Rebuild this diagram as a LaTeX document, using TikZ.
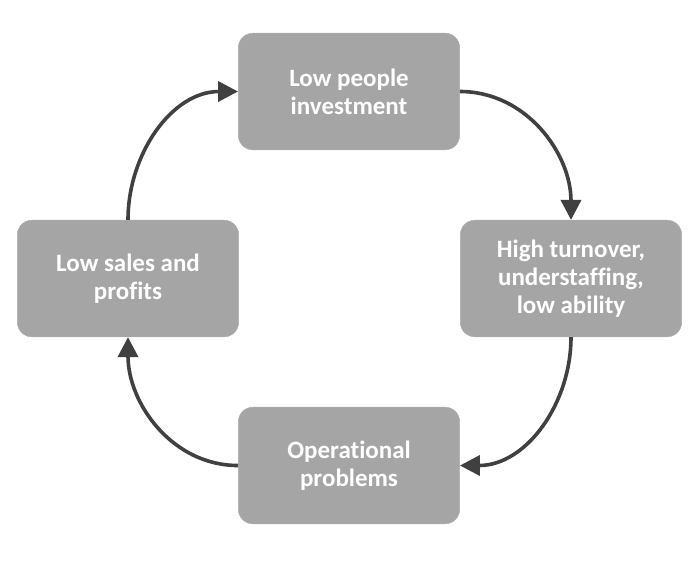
\documentclass[tikz,border=0pt]{standalone}
\usepackage{fontspec}
\setmainfont{Carlito}[Ligatures={NoCommon,NoContextual}]
\usepackage{xcolor}
\usetikzlibrary{arrows.meta}

\definecolor{boxgray}{HTML}{A5A5A5}
\definecolor{arrowgray}{HTML}{404040}

\tikzset{
  stagebox/.style={fill=boxgray, draw=boxgray!90!white, rounded corners=11pt,
    minimum width=166pt, minimum height=87.5pt, inner sep=0.75pt,
    text=white, align=center, font=\fontsize{18.75}{21}\selectfont\bfseries},
  cyclearrow/.style={draw=arrowgray, line width=2.7pt,
    -{Triangle[length=15pt,width=15pt]}}
}

\begin{document}
\begin{tikzpicture}[x=0.75pt,y=0.75pt,yscale=-1,xscale=1]

\useasboundingbox (0,0) rectangle (700,562);

% boxes
\node [stagebox] (invest) at (349,91.5) {Low people\\investment};
\node [stagebox] (turnover) at (571,278.5) {High turnover,\\understaffing,\\low ability};
\node [stagebox] (ops) at (349,465.5) {Operational\\problems};
\node [stagebox] (sales) at (128,278.5) {Low sales and\\profits};

% arrows (y axis is flipped, so -90 points up)
\draw [cyclearrow] (invest.east) to[out=0,in=-90] (turnover.north);
\draw [cyclearrow] (turnover.south) to[out=90,in=0] (ops.east);
\draw [cyclearrow] (ops.west) to[out=180,in=90] (sales.south);
\draw [cyclearrow] (sales.north) to[out=-90,in=180] (invest.west);

\end{tikzpicture}
\end{document}
